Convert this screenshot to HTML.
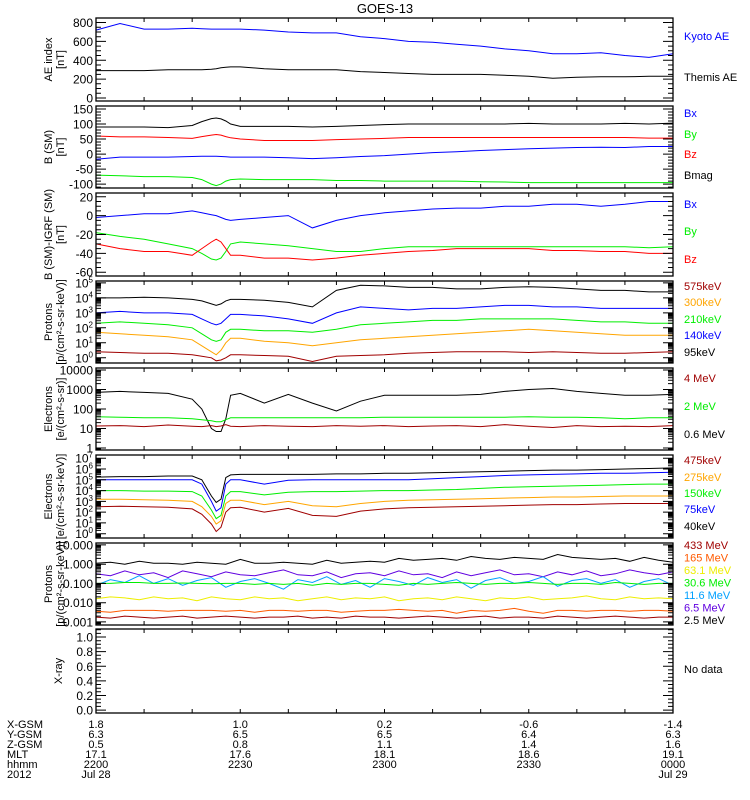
<!DOCTYPE html>
<html><head><meta charset="utf-8">
<style>
html,body{margin:0;padding:0;background:#fff;}
svg{display:block;font-family:"Liberation Sans",sans-serif;}
</style></head>
<body>
<svg id="chart" width="750" height="800" viewBox="0 0 750 800" xmlns="http://www.w3.org/2000/svg">
<text x="385" y="13" font-size="13" text-anchor="middle">GOES-13</text>
</svg>
<script>
// ---- data ----
const T = [0,5,10,15,20,22,24,25,26,27,28,30,35,40,45,50,55,60,65,70,75,80,85,90,95,100,105,110,115,120];
const T7 = [0,3,6,9,12,15,18,21,24,27,30,33,36,39,42,45,48,51,54,57,60,63,66,69,72,75,78,81,84,87,90,93,96,99,102,105,108,111,114,117,120];
const kyotoAE = [720,790,730,730,740,735,730,730,730,730,730,730,720,700,690,690,650,630,600,590,570,550,520,500,470,470,480,450,430,470];
const themisAE = [290,290,290,300,300,300,305,310,320,325,330,330,310,300,300,300,280,270,260,250,250,250,240,230,210,220,225,225,230,230];
const bBmag = [90,90,90,88,95,108,118,120,117,110,100,92,92,92,90,92,95,98,100,100,100,100,100,102,100,100,100,102,100,103];
const bBz = [60,57,57,55,52,58,63,65,63,58,54,50,45,45,45,48,50,52,55,55,55,55,55,55,55,55,55,55,53,53];
const bBx = [-17,-10,-10,-10,-8,-7,-7,-7,-8,-9,-10,-10,-10,-12,-15,-12,-8,-5,0,5,8,12,15,18,20,22,23,22,25,25];
const bBy = [-70,-72,-75,-75,-78,-85,-100,-105,-100,-90,-85,-83,-85,-85,-85,-88,-88,-90,-90,-90,-90,-92,-93,-95,-95,-95,-95,-95,-95,-95];
const dBx = [-2,0,2,2,5,3,1,0,-2,-4,-5,-4,-2,0,-13,-5,0,3,5,7,8,8,10,10,12,12,10,12,15,15];
const dBy = [-18,-22,-25,-30,-35,-40,-46,-47,-45,-38,-30,-28,-30,-32,-35,-38,-38,-35,-33,-33,-33,-33,-33,-33,-33,-33,-33,-33,-34,-33];
const dBz = [-30,-35,-38,-38,-42,-35,-28,-25,-28,-35,-42,-42,-45,-45,-47,-45,-42,-40,-38,-37,-35,-35,-35,-35,-37,-37,-38,-38,-40,-40];
const p4Black = [4.0,4.0,4.05,4.0,3.9,3.8,3.6,3.5,3.6,3.8,3.9,3.9,3.85,3.7,3.4,4.5,4.85,4.8,4.7,4.7,4.6,4.6,4.7,4.75,4.7,4.6,4.5,4.5,4.4,4.4];
const p4Blue = [3.0,3.1,3.0,3.0,2.9,2.6,2.3,2.2,2.3,2.6,2.9,2.9,2.8,2.6,2.3,3.0,3.4,3.3,3.2,3.3,3.3,3.4,3.5,3.5,3.4,3.4,3.3,3.3,3.3,3.3];
const p4Green = [2.3,2.4,2.3,2.2,2.0,1.6,1.2,1.1,1.2,1.7,1.9,1.9,1.8,1.8,1.7,1.9,2.2,2.3,2.4,2.5,2.5,2.6,2.6,2.6,2.6,2.5,2.4,2.4,2.3,2.3];
const p4Orange = [1.7,1.6,1.5,1.4,1.2,0.8,0.4,0.2,0.5,1.0,1.3,1.3,1.1,1.0,0.8,1.0,1.2,1.3,1.4,1.5,1.6,1.7,1.8,1.9,1.8,1.7,1.6,1.5,1.5,1.5];
const p4Red = [0.4,0.35,0.3,0.3,0.2,0.1,0.0,-0.2,-0.15,0.0,0.2,0.2,0.15,0.1,-0.25,0.1,0.15,0.2,0.3,0.35,0.4,0.4,0.4,0.35,0.4,0.35,0.3,0.3,0.35,0.4];
const p5Black = [2.85,2.9,2.85,2.8,2.5,2.0,1.0,0.85,0.85,1.5,2.7,2.8,2.3,2.75,2.3,1.9,2.4,2.7,2.7,2.7,2.7,2.75,2.9,3.0,3.05,2.9,2.8,2.7,2.7,2.75];
const p5Green = [1.6,1.58,1.55,1.55,1.5,1.45,1.4,1.35,1.35,1.45,1.55,1.55,1.55,1.55,1.55,1.55,1.55,1.58,1.58,1.58,1.58,1.58,1.58,1.6,1.58,1.58,1.55,1.5,1.55,1.55];
const p5Red = [1.13,1.15,1.1,1.18,1.12,1.1,1.15,1.1,1.13,1.2,1.12,1.1,1.15,1.12,1.1,1.15,1.12,1.15,1.1,1.13,1.15,1.1,1.2,1.12,1.05,1.15,1.1,1.12,1.1,1.15];
const p6Black = [5.25,5.3,5.3,5.35,5.35,5.0,3.5,2.9,3.2,5.2,5.45,5.5,5.5,5.5,5.5,5.55,5.55,5.6,5.6,5.65,5.7,5.75,5.8,5.85,5.9,5.9,5.95,6.0,6.05,6.1];
const p6Blue = [5.0,5.0,5.0,5.0,5.0,4.6,3.0,2.1,2.4,4.6,5.0,5.0,4.6,4.95,5.0,5.0,5.0,5.0,5.0,5.1,5.2,5.3,5.4,5.45,5.5,5.55,5.6,5.6,5.65,5.7];
const p6Green = [4.0,4.0,3.95,3.95,3.9,3.5,2.2,1.4,1.7,3.5,3.9,3.9,3.6,3.85,3.9,3.9,3.95,4.0,4.0,4.05,4.1,4.2,4.3,4.35,4.4,4.45,4.5,4.55,4.6,4.6];
const p6Orange = [3.2,3.2,3.15,3.1,3.0,2.5,1.6,0.9,1.2,2.8,3.1,3.1,2.7,3.0,2.6,2.5,2.8,3.0,3.1,3.15,3.2,3.25,3.3,3.35,3.4,3.4,3.45,3.5,3.5,3.5];
const p6Red = [2.5,2.55,2.5,2.45,2.3,1.8,0.9,0.2,0.6,2.0,2.4,2.45,2.0,2.35,1.7,1.6,2.1,2.3,2.4,2.45,2.5,2.55,2.6,2.65,2.7,2.7,2.75,2.8,2.8,2.8];
const p7Black = [0.05,0.1,0.0,0.15,0.05,0.05,0.0,0.1,0.05,0.0,0.25,0.05,0.05,0.1,0.05,0.0,0.2,0.05,0.1,0.15,0.1,0.3,0.2,0.25,0.3,0.2,0.4,0.3,0.25,0.35,0.3,0.25,0.5,0.35,0.3,0.25,0.3,0.15,0.35,0.2,0.1];
const p7Purple = [-0.5,-0.6,-0.35,-0.55,-0.45,-0.7,-0.35,-0.5,-0.65,-0.4,-0.55,-0.6,-0.45,-0.3,-0.55,-0.6,-0.4,-0.7,-0.5,-0.45,-0.6,-0.35,-0.55,-0.5,-0.7,-0.4,-0.6,-0.45,-0.3,-0.55,-0.5,-0.65,-0.4,-0.55,-0.35,-0.6,-0.5,-0.3,-0.45,-0.55,-0.4];
const p7Cyan = [-1.1,-0.8,-0.95,-0.6,-1.0,-0.75,-1.1,-0.85,-0.7,-1.2,-0.9,-0.75,-1.0,-1.3,-0.8,-0.95,-0.65,-1.05,-0.85,-1.2,-0.75,-0.9,-1.1,-0.7,-0.95,-0.8,-1.25,-0.85,-0.7,-1.0,-0.9,-0.65,-1.15,-0.85,-0.75,-1.0,-0.8,-1.2,-0.9,-0.75,-1.1];
const p7Green = [-1.0,-1.0,-0.95,-0.95,-1.0,-1.0,-0.98,-1.0,-1.02,-1.0,-1.0,-1.05,-1.0,-1.05,-1.0,-1.1,-1.0,-1.05,-1.0,-1.0,-1.05,-1.1,-1.0,-1.05,-1.0,-0.95,-1.0,-1.05,-1.0,-1.0,-0.95,-1.0,-1.05,-1.0,-1.0,-1.05,-0.95,-1.0,-1.05,-1.0,-1.0];
const p7Yellow = [-1.8,-1.7,-1.75,-1.85,-1.7,-1.8,-1.75,-1.9,-1.7,-1.8,-1.85,-1.7,-1.8,-1.75,-1.9,-1.8,-1.7,-1.85,-1.75,-1.8,-1.7,-1.9,-1.8,-1.75,-1.85,-1.7,-1.8,-1.9,-1.75,-1.8,-1.7,-1.85,-1.8,-1.75,-1.65,-1.8,-1.85,-1.7,-1.8,-1.75,-1.8];
const p7Orange = [-2.45,-2.5,-2.4,-2.4,-2.4,-2.45,-2.4,-2.4,-2.4,-2.45,-2.4,-2.5,-2.4,-2.4,-2.45,-2.4,-2.4,-2.5,-2.45,-2.4,-2.4,-2.35,-2.4,-2.45,-2.4,-2.55,-2.4,-2.45,-2.4,-2.3,-2.45,-2.55,-2.4,-2.4,-2.45,-2.4,-2.4,-2.45,-2.4,-2.4,-2.45];
const p7Red = [-2.75,-2.8,-2.7,-2.75,-2.8,-2.75,-2.7,-2.8,-2.75,-2.7,-2.75,-2.8,-2.75,-2.75,-2.7,-2.8,-2.75,-2.8,-2.7,-2.75,-2.75,-2.8,-2.75,-2.7,-2.75,-2.8,-2.75,-2.7,-2.8,-2.75,-2.75,-2.8,-2.7,-2.75,-2.8,-2.75,-2.7,-2.75,-2.8,-2.75,-2.75];
const posRowLabels = ["X-GSM","Y-GSM","Z-GSM","MLT","hhmm","2012"];
const posTimes = [0,30,60,90,120];
const posRows = [["1.8","1.0","0.2","-0.6","-1.4"],["6.3","6.5","6.5","6.4","6.3"],["0.5","0.8","1.1","1.4","1.6"],["17.1","17.6","18.1","18.6","19.1"],["2200","2230","2300","2330","0000"],["Jul 28","","","","Jul 29"]];

// ---- layout ----
const NS="http://www.w3.org/2000/svg";
const svg=document.getElementById('chart');
const X0=96, X1=673, TMAX=120;
const xs = t => X0 + (X1-X0)*t/TMAX;
function mk(tag,attrs,parent){const e=document.createElementNS(NS,tag);for(const k in attrs)e.setAttribute(k,attrs[k]);(parent||svg).appendChild(e);return e;}
const C={black:'#000',blue:'#0000ff',red:'#ff0000',green:'#00ee00',orange:'#ffa500',dred:'#a00000',cyan:'#00a0ff',purple:'#6000e0',yellow:'#eeee00',ored:'#ff5a00'};

const panels=[
 {name:'ae-index-panel',top:18,bot:101,d0:-32,d1:848,log:false,maj:200,min:50,
  title:['AE index','[nT]'],
  series:[['kyoto-ae-line',T,kyotoAE,C.blue],['themis-ae-line',T,themisAE,C.black]],
  legend:[['Kyoto AE',36,C.blue],['Themis AE',77,C.black]]},
 {name:'b-sm-panel',top:106,bot:188,d0:-113,d1:160,log:false,maj:50,min:10,
  title:['B (SM)','[nT]'],
  series:[['bmag-line',T,bBmag,C.black],['bz-line',T,bBz,C.red],['bx-line',T,bBx,C.blue],['by-line',T,bBy,C.green]],
  legend:[['Bx',113,C.blue],['By',134,C.green],['Bz',154,C.red],['Bmag',175,C.black]]},
 {name:'b-minus-igrf-panel',top:193,bot:276,d0:-64,d1:24,log:false,maj:20,min:5,
  title:['B (SM)-IGRF (SM)','[nT]'],
  series:[['dbx-line',T,dBx,C.blue],['dby-line',T,dBy,C.green],['dbz-line',T,dBz,C.red]],
  legend:[['Bx',204,C.blue],['By',231,C.green],['Bz',259,C.red]]},
 {name:'proton-flux-panel',top:281,bot:363,d0:-0.35,d1:5.13,log:true,fmt:'pow',
  title:['Protons','[p/(cm²-s-sr-keV)]'],
  series:[['proton-95kev-line',T,p4Black,C.black],['proton-140kev-line',T,p4Blue,C.blue],['proton-210kev-line',T,p4Green,C.green],['proton-300kev-line',T,p4Orange,C.orange],['proton-575kev-line',T,p4Red,C.dred]],
  legend:[['575keV',286,C.dred],['300keV',302,C.orange],['210keV',319,C.green],['140keV',335,C.blue],['95keV',352,C.black]]},
 {name:'electron-integral-panel',top:368,bot:450,d0:-0.1,d1:4.1,log:true,fmt:'int',
  title:['Electrons','[e/(cm²-s-sr)]'],
  series:[['electron-0.6mev-line',T,p5Black,C.black],['electron-2mev-line',T,p5Green,C.green],['electron-4mev-line',T,p5Red,C.dred]],
  legend:[['4 MeV',378,C.dred],['2 MeV',406,C.green],['0.6 MeV',434,C.black]]},
 {name:'electron-flux-panel',top:455,bot:538,d0:-0.4,d1:7.3,log:true,fmt:'pow',
  title:['Electrons','[e/(cm²-s-sr-keV)]'],
  series:[['electron-40kev-line',T,p6Black,C.black],['electron-75kev-line',T,p6Blue,C.blue],['electron-150kev-line',T,p6Green,C.green],['electron-275kev-line',T,p6Orange,C.orange],['electron-475kev-line',T,p6Red,C.dred]],
  legend:[['475keV',460,C.dred],['275keV',477,C.orange],['150keV',493,C.green],['75keV',509,C.blue],['40keV',526,C.black]]},
 {name:'high-energy-proton-panel',top:543,bot:625,d0:-3.16,d1:1.1,log:true,fmt:'dec',
  title:['Protons','[p/(cm²-s-sr-keV)]'],
  series:[['proton-2.5mev-line',T7,p7Black,C.black],['proton-6.5mev-line',T7,p7Purple,C.purple],['proton-11.6mev-line',T7,p7Cyan,C.cyan],['proton-30.6mev-line',T7,p7Green,C.green],['proton-63.1mev-line',T7,p7Yellow,C.yellow],['proton-165mev-line',T7,p7Orange,C.ored],['proton-433mev-line',T7,p7Red,C.dred]],
  legend:[['433 MeV',545,C.dred],['165 MeV',557.5,C.ored],['63.1 MeV',570,C.yellow],['30.6 MeV',582.5,C.green],['11.6 MeV',595,C.cyan],['6.5 MeV',607.5,C.purple],['2.5 MeV',620,C.black]]},
 {name:'xray-panel',top:629,bot:713,d0:-0.04,d1:1.11,log:false,maj:0.2,min:0.05,
  title:['X-ray'],series:[],legend:[['No data',669,C.black]]}
];

panels.forEach(p=>{
  const g=mk('g',{});
  
  
  const ys=v=>p.bot-(p.bot-p.top)*(v-p.d0)/(p.d1-p.d0);
  p.series.forEach(s=>{
    const [nm,tt,vals,col]=s;
    const pts=vals.map((v,i)=>xs(tt[i]).toFixed(1)+','+ys(v).toFixed(1)).join(' ');
    const pl=mk('polyline',{points:pts,fill:'none',stroke:col,'stroke-width':1},g);
    
    
  });
  const fr=mk('rect',{x:X0,y:p.top,width:X1-X0,height:p.bot-p.top,fill:'none',stroke:'#000','stroke-width':1.3},g);
  
  
  let d='';
  for(let t=10;t<TMAX;t+=10){const x=xs(t);d+=`M${x},${p.bot}v-4M${x},${p.top}v4`;}
  const tickList=[];
  if(p.log){
    for(let k=Math.floor(p.d0);k<=Math.ceil(p.d1);k++){
      if(k>=p.d0&&k<=p.d1)tickList.push([k,true]);
      for(let m=2;m<=9;m++){const v=k+Math.log10(m);if(v>=p.d0&&v<=p.d1)tickList.push([v,false]);}
    }
  } else {
    const n0=Math.ceil(p.d0/p.min-1e-9), n1=Math.floor(p.d1/p.min+1e-9);
    for(let n=n0;n<=n1;n++){const v=n*p.min;const r=v/p.maj;tickList.push([v,Math.abs(r-Math.round(r))<1e-6]);}
  }
  tickList.forEach(([v,maj])=>{
    const y=ys(v).toFixed(1);const L=maj?10:5;
    d+=`M${X0},${y}h${L}M${X1},${y}h${-L}`;
    if(maj){
      const tx=mk('text',{x:93,y:+y+4.5,'font-size':12,'text-anchor':'end'},g);
      
      
      if(p.log&&p.fmt==='pow'){
        tx.textContent='10';
        const sp=mk('tspan',{dy:-5,'font-size':8},tx);sp.textContent=String(Math.round(v));
      } else if(p.log&&p.fmt==='int'){
        tx.textContent=String(Math.round(Math.pow(10,v)));
      } else if(p.log){
        tx.textContent=Math.pow(10,v).toFixed(3);
      } else {
        tx.textContent=(p.maj<1)?v.toFixed(1):String(Math.round(v));
      }
    }
  });
  const tk=mk('path',{d:d,stroke:'#000','stroke-width':1,fill:'none'},g);
  
  
  const cy=(p.top+p.bot)/2;
  p.title.forEach((line,i)=>{
    const n=p.title.length;const x=(n===1?62:52+i*12);
    const tx=mk('text',{x:x,y:cy,'font-size':11,'text-anchor':'middle',transform:`rotate(-90 ${x} ${cy})`},g);
    
    
    tx.textContent=line;
  });
  p.legend.forEach(([lbl,y,col])=>{
    const tx=mk('text',{x:684,y:y+4,'font-size':11,fill:col},g);
    
    
    tx.textContent=lbl;
  });
});

const pg=mk('g',{});


posRowLabels.forEach((lbl,r)=>{
  const y=728+r*10;
  const tx=mk('text',{x:7,y:y,'font-size':11},pg);
  
  
  tx.textContent=lbl;
  posRows[r].forEach((val,c)=>{
    if(!val)return;
    const t2=mk('text',{x:xs(posTimes[c]),y:y,'font-size':11,'text-anchor':'middle'},pg);
    
    
    t2.textContent=val;
  });
});
</script>
</body></html>
